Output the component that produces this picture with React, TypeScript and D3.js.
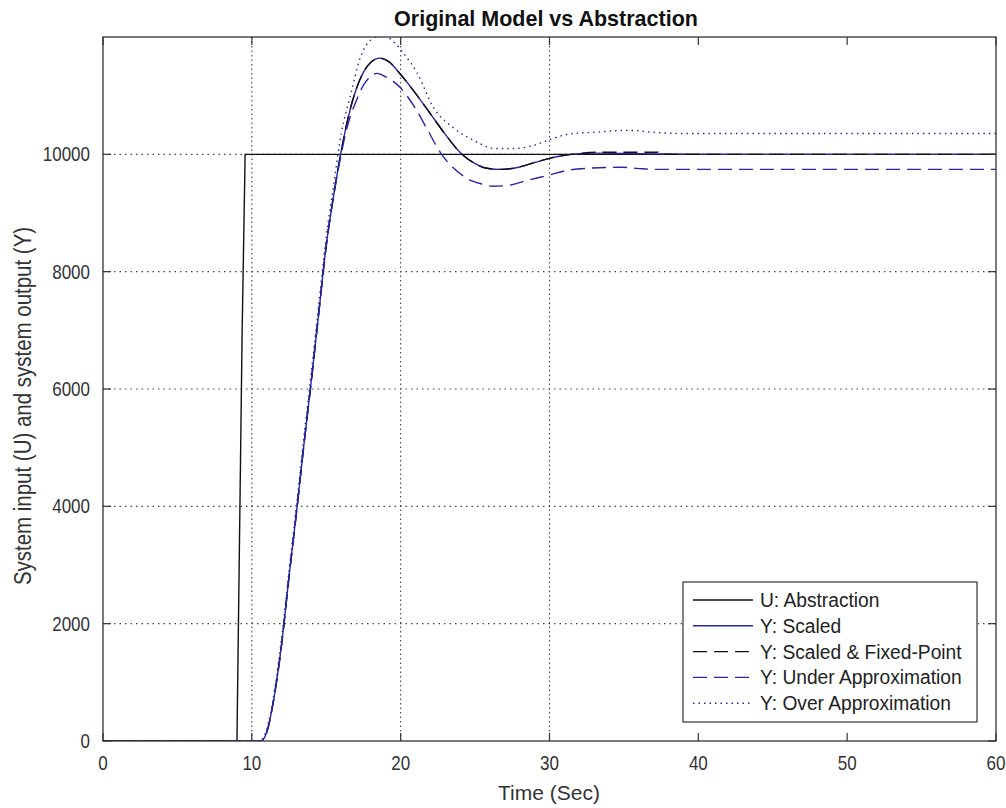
import React from "react";
import * as d3 from "d3";

const xTicks = [0, 10, 20, 30, 40, 50, 60];
const yTicks = [0, 2000, 4000, 6000, 8000, 10000];
const xGrid = [10, 20, 30];
const yGrid = [2000, 4000, 6000, 8000, 10000];

const uAbstraction: [number, number][] = [
  [0, 0], [9.0, 0], [9.05, 1000], [9.15, 3000], [9.35, 7000], [9.55, 10000], [60, 10000],
];

const yScaled: [number, number][] = [
  [0, 0], [10.6, 0], [11.0, 150], [11.5, 750], [12.0, 1650], [12.5, 2800], [13.0, 3900],
  [13.5, 5050], [14.0, 6150], [14.5, 7300], [15.0, 8450], [15.5, 9300], [16.0, 10050],
  [16.5, 10650], [17.0, 11100], [17.5, 11400], [18.0, 11570], [18.6, 11640], [19.2, 11580],
  [20.0, 11360], [21.0, 11040], [22.0, 10690], [23.0, 10340], [24.0, 10030], [25.0, 9840],
  [25.5, 9780], [26.0, 9755], [26.7, 9744], [28.0, 9785], [29.0, 9860], [30.0, 9932],
  [31.0, 9985], [32.0, 10012], [33.0, 10020], [35.0, 10015], [38.0, 10005], [42.0, 10000],
  [60, 10000],
];

const yFixedPoint: [number, number][] = [
  [0, 0], [10.6, 0], [11.0, 150], [11.5, 760], [12.0, 1640], [12.5, 2810], [13.0, 3890],
  [13.5, 5060], [14.0, 6140], [14.5, 7310], [15.0, 8440], [15.5, 9310], [16.0, 10040],
  [16.5, 10660], [17.0, 11100], [17.5, 11400], [18.0, 11570], [18.6, 11640], [19.2, 11580],
  [20.0, 11360], [21.0, 11040], [22.0, 10690], [23.0, 10340], [24.0, 10030], [25.0, 9840],
  [25.5, 9780], [26.0, 9755], [26.7, 9744], [28.0, 9785], [29.0, 9860], [30.0, 9932],
  [31.0, 9985], [32.0, 10015], [33.1, 10035], [37.3, 10035], [37.4, 10000], [60, 10000],
];

const yUnder: [number, number][] = [
  [0, 0], [10.6, 0], [11.0, 150], [11.5, 750], [12.0, 1650], [12.5, 2800], [13.0, 3900],
  [13.5, 5050], [14.0, 6150], [14.5, 7300], [15.0, 8450], [15.5, 9300], [16.0, 10000],
  [16.5, 10550], [17.0, 10900], [17.5, 11180], [18.0, 11330], [18.4, 11380], [19.0, 11320],
  [20.0, 11130], [21.0, 10780], [21.8, 10420], [22.7, 10017], [23.5, 9780], [24.7, 9557],
  [25.5, 9490], [26.2, 9455], [27.2, 9470], [28.5, 9557], [29.9, 9642], [31.2, 9727],
  [32.5, 9761], [34.8, 9779], [35.9, 9761], [37.0, 9744], [60, 9744],
];

const yOver: [number, number][] = [
  [0, 0], [10.5, 0], [11.0, 200], [11.5, 820], [12.0, 1750], [12.5, 2900], [13.0, 4020],
  [13.5, 5180], [14.0, 6300], [14.5, 7450], [15.0, 8600], [15.5, 9480], [16.0, 10350],
  [16.6, 10976], [17.3, 11656], [18.0, 11950], [18.8, 12030], [19.6, 11900], [20.2, 11720],
  [21.1, 11390], [22.2, 10800], [23.5, 10460], [24.9, 10240], [26.3, 10100], [27.6, 10100],
  [28.9, 10150], [30.0, 10250], [31.4, 10350], [33.0, 10375], [35.2, 10409], [37.0, 10375],
  [39.0, 10355], [60, 10355],
];

const legendLabels = [
  "U: Abstraction",
  "Y: Scaled",
  "Y: Scaled & Fixed-Point",
  "Y: Under Approximation",
  "Y: Over Approximation",
];

const BLUE = "#2626a6";
const BLACK = "#111111";

const series = [
  { data: uAbstraction, color: BLACK, dash: "none", curve: d3.curveLinear },
  { data: yScaled, color: BLUE, dash: "none", curve: d3.curveMonotoneX },
  { data: yFixedPoint, color: BLACK, dash: "14 7", curve: d3.curveMonotoneX },
  { data: yUnder, color: BLUE, dash: "14 7", curve: d3.curveMonotoneX },
  { data: yOver, color: BLUE, dash: "1.5 4", curve: d3.curveMonotoneX },
];

const FONT = "'Liberation Sans', Arial, Helvetica, sans-serif";

function T({ x, y, sx = 1, rot = 0, children, ...rest }: any) {
  return (
    <text
      transform={`translate(${x},${y}) rotate(${rot}) scale(${sx},1)`}
      fontFamily={FONT}
      {...rest}
    >
      {children}
    </text>
  );
}

export default function App() {
  const L = 103, R = 996, Tp = 37, B = 741;
  const x = d3.scaleLinear().domain([0, 60]).range([L, R]);
  const y = d3.scaleLinear().domain([0, 12000]).range([B, Tp]);
  const tickLen = 8;

  const lineGen = (curve: any) =>
    d3.line<[number, number]>().x((d) => x(d[0])).y((d) => y(d[1])).curve(curve);

  const legX = 683, legY = 582, legW = 294, legH = 140;
  const rowY = (i: number) => 600 + i * 25.8;

  return (
    <svg
      width={1006}
      height={808}
      style={{ position: "absolute", left: 0, top: 0, background: "#fff" }}
    >
      <defs>
        <clipPath id="plotclip">
          <rect x={L} y={Tp} width={R - L} height={B - Tp} />
        </clipPath>
      </defs>
      <rect x={0} y={0} width={1006} height={808} fill="#fff" />

      {/* grid */}
      {xGrid.map((v) => (
        <line key={"gx" + v} x1={x(v)} x2={x(v)} y1={Tp} y2={B} stroke="#444" strokeWidth={1.1} strokeDasharray="1.5 3" />
      ))}
      {yGrid.map((v) => (
        <line key={"gy" + v} x1={L} x2={R} y1={y(v)} y2={y(v)} stroke="#444" strokeWidth={1.1} strokeDasharray="1.5 4" />
      ))}

      {/* series */}
      <g clipPath="url(#plotclip)">
        {series.map((s, i) => (
          <path
            key={i}
            d={lineGen(s.curve)(s.data) || ""}
            fill="none"
            stroke={s.color}
            strokeWidth={1.4}
            strokeDasharray={s.dash}
          />
        ))}
      </g>

      {/* box */}
      <rect x={L} y={Tp} width={R - L} height={B - Tp} fill="none" stroke="#333" strokeWidth={1.3} />

      {/* ticks */}
      {xTicks.map((v) => (
        <g key={"tx" + v}>
          <line x1={x(v)} x2={x(v)} y1={B} y2={B - tickLen} stroke="#333" strokeWidth={1.2} />
          <line x1={x(v)} x2={x(v)} y1={Tp} y2={Tp + tickLen} stroke="#333" strokeWidth={1.2} />
          <T x={x(v)} y={770} sx={0.85} fontSize={20} textAnchor="middle" fill="#333">
            {v}
          </T>
        </g>
      ))}
      {yTicks.map((v) => (
        <g key={"ty" + v}>
          <line x1={L} x2={L + tickLen} y1={y(v)} y2={y(v)} stroke="#333" strokeWidth={1.2} />
          <line x1={R} x2={R - tickLen} y1={y(v)} y2={y(v)} stroke="#333" strokeWidth={1.2} />
          <T x={90} y={y(v) + 7} sx={0.85} fontSize={20} textAnchor="end" fill="#333">
            {v}
          </T>
        </g>
      ))}

      {/* title and labels */}
      <T x={546} y={26} fontSize={21.5} fontWeight="bold" textAnchor="middle" fill="#111">
        Original Model vs Abstraction
      </T>
      <T x={549} y={800} fontSize={21} textAnchor="middle" fill="#333">
        Time (Sec)
      </T>
      <T x={31} y={406} rot={-90} sx={0.89} fontSize={23} textAnchor="middle" fill="#333">
        System input (U) and system output (Y)
      </T>

      {/* legend */}
      <rect x={legX} y={legY} width={legW} height={legH} fill="#fff" stroke="#333" strokeWidth={1.2} />
      {legendLabels.map((lab, i) => (
        <g key={lab}>
          <line
            x1={693}
            x2={753}
            y1={rowY(i)}
            y2={rowY(i)}
            stroke={series[i].color}
            strokeWidth={1.4}
            strokeDasharray={series[i].dash}
          />
          <T x={760} y={rowY(i) + 7} sx={0.96} fontSize={20} fill="#222">
            {lab}
          </T>
        </g>
      ))}
    </svg>
  );
}
